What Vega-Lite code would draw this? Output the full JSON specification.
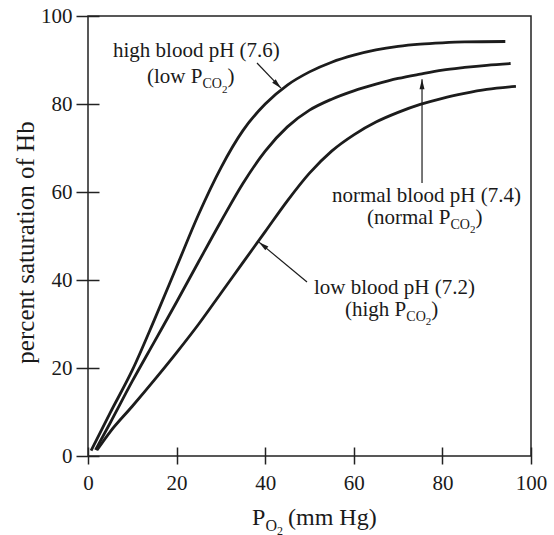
{
  "$schema": "https://vega.github.io/schema/vega-lite/v6.json",
  "width": 443,
  "height": 440,
  "autosize": {"type": "none"},
  "padding": {"left": 88, "top": 16, "right": 23, "bottom": 79},
  "background": "white",
  "config": {
    "view": {"stroke": "#222", "strokeWidth": 1.5},
    "font": "Liberation Serif",
    "axis": {"grid": false}
  },
  "datasets": {
    "curves": [
      {"po2": 0.7, "sat": 1.2, "pH": "7.6"},
      {"po2": 5, "sat": 9.8, "pH": "7.6"},
      {"po2": 10, "sat": 19.5, "pH": "7.6"},
      {"po2": 15, "sat": 31, "pH": "7.6"},
      {"po2": 20, "sat": 43, "pH": "7.6"},
      {"po2": 25, "sat": 55, "pH": "7.6"},
      {"po2": 30, "sat": 65.5, "pH": "7.6"},
      {"po2": 35, "sat": 74, "pH": "7.6"},
      {"po2": 40, "sat": 80, "pH": "7.6"},
      {"po2": 45, "sat": 84.3, "pH": "7.6"},
      {"po2": 50, "sat": 87.3, "pH": "7.6"},
      {"po2": 55, "sat": 89.5, "pH": "7.6"},
      {"po2": 60, "sat": 91.1, "pH": "7.6"},
      {"po2": 65, "sat": 92.3, "pH": "7.6"},
      {"po2": 70, "sat": 93.1, "pH": "7.6"},
      {"po2": 75, "sat": 93.6, "pH": "7.6"},
      {"po2": 80, "sat": 93.9, "pH": "7.6"},
      {"po2": 85, "sat": 94.1, "pH": "7.6"},
      {"po2": 94.2, "sat": 94.2, "pH": "7.6"},
      {"po2": 1.7, "sat": 1.4, "pH": "7.4"},
      {"po2": 5, "sat": 7.5, "pH": "7.4"},
      {"po2": 10, "sat": 17, "pH": "7.4"},
      {"po2": 15, "sat": 26, "pH": "7.4"},
      {"po2": 20, "sat": 35, "pH": "7.4"},
      {"po2": 25, "sat": 44.2, "pH": "7.4"},
      {"po2": 30, "sat": 53.3, "pH": "7.4"},
      {"po2": 35, "sat": 62, "pH": "7.4"},
      {"po2": 40, "sat": 69.3, "pH": "7.4"},
      {"po2": 45, "sat": 74.8, "pH": "7.4"},
      {"po2": 50, "sat": 78.6, "pH": "7.4"},
      {"po2": 55, "sat": 81.1, "pH": "7.4"},
      {"po2": 60, "sat": 83, "pH": "7.4"},
      {"po2": 65, "sat": 84.5, "pH": "7.4"},
      {"po2": 70, "sat": 85.8, "pH": "7.4"},
      {"po2": 75, "sat": 86.8, "pH": "7.4"},
      {"po2": 80, "sat": 87.7, "pH": "7.4"},
      {"po2": 85, "sat": 88.3, "pH": "7.4"},
      {"po2": 90, "sat": 88.8, "pH": "7.4"},
      {"po2": 95.4, "sat": 89.2, "pH": "7.4"},
      {"po2": 2, "sat": 1.3, "pH": "7.2"},
      {"po2": 5, "sat": 5.5, "pH": "7.2"},
      {"po2": 10, "sat": 11.3, "pH": "7.2"},
      {"po2": 15, "sat": 17.3, "pH": "7.2"},
      {"po2": 20, "sat": 23.5, "pH": "7.2"},
      {"po2": 25, "sat": 30, "pH": "7.2"},
      {"po2": 30, "sat": 37, "pH": "7.2"},
      {"po2": 35, "sat": 44, "pH": "7.2"},
      {"po2": 40, "sat": 51, "pH": "7.2"},
      {"po2": 45, "sat": 58, "pH": "7.2"},
      {"po2": 50, "sat": 64.3, "pH": "7.2"},
      {"po2": 55, "sat": 69.3, "pH": "7.2"},
      {"po2": 60, "sat": 73, "pH": "7.2"},
      {"po2": 65, "sat": 75.9, "pH": "7.2"},
      {"po2": 70, "sat": 78.1, "pH": "7.2"},
      {"po2": 75, "sat": 79.9, "pH": "7.2"},
      {"po2": 80, "sat": 81.3, "pH": "7.2"},
      {"po2": 85, "sat": 82.4, "pH": "7.2"},
      {"po2": 90, "sat": 83.3, "pH": "7.2"},
      {"po2": 96.6, "sat": 84, "pH": "7.2"}
    ],
    "arrows": [
      {"pH": "7.6", "x1": 38.15, "y1": 89.32, "x2": 43.57, "y2": 83.6},
      {"pH": "7.4", "x1": 75.4, "y1": 62.05, "x2": 75.4, "y2": 85.6},
      {"pH": "7.2", "x1": 49.44, "y1": 39.55, "x2": 38.6, "y2": 48.6}
    ],
    "labels": [
      {"text": "high blood pH (7.6)", "x": 5.64, "y": 90.68, "role": "main"},
      {"text": "(low P", "x": 13.32, "y": 84.77, "role": "main"},
      {"text": "CO", "x": 25.85, "y": 83.64, "role": "sub"},
      {"text": "2", "x": 30.25, "y": 82.61, "role": "subsub"},
      {"text": ")", "x": 31.49, "y": 84.77, "role": "main"},
      {"text": "normal blood pH (7.4)", "x": 55.08, "y": 57.73, "role": "main"},
      {"text": "(normal P", "x": 62.98, "y": 52.84, "role": "main"},
      {"text": "CO", "x": 81.83, "y": 51.7, "role": "sub"},
      {"text": "2", "x": 86.23, "y": 50.68, "role": "subsub"},
      {"text": ")", "x": 87.47, "y": 52.84, "role": "main"},
      {"text": "low blood pH (7.2)", "x": 51.02, "y": 36.82, "role": "main"},
      {"text": "(high P", "x": 58.01, "y": 31.82, "role": "main"},
      {"text": "CO", "x": 71.85, "y": 30.68, "role": "sub"},
      {"text": "2", "x": 76.23, "y": 29.66, "role": "subsub"},
      {"text": ")", "x": 77.47, "y": 31.82, "role": "main"},
      {"text": "P", "x": 37.02, "y": -15.68, "role": "title"},
      {"text": "O", "x": 40.07, "y": -17.05, "role": "titlesub"},
      {"text": "2", "x": 42.66, "y": -17.95, "role": "titlesubsub"},
      {"text": "(mm Hg)", "x": 45.15, "y": -15.68, "role": "title"}
    ]
  },
  "layer": [
    {
      "data": {"name": "curves"},
      "mark": {"type": "line", "interpolate": "monotone", "color": "#1c1c1c", "strokeWidth": 2.8, "clip": false},
      "encoding": {
        "x": {
          "field": "po2", "type": "quantitative",
          "scale": {"domain": [0, 100], "nice": false, "zero": false},
          "axis": {
            "orient": "bottom", "values": [0, 20, 40, 60, 80, 100], "title": null,
            "offset": -9, "domain": false,
            "tickSize": 17, "tickWidth": 1.5, "tickColor": "#222",
            "labelFont": "Liberation Serif", "labelFontSize": 21, "labelColor": "#1a1a1a",
            "labelPadding": 8, "labelFlush": false
          }
        },
        "y": {
          "field": "sat", "type": "quantitative",
          "scale": {"domain": [0, 100], "nice": false, "zero": false},
          "axis": {
            "orient": "left", "values": [0, 20, 40, 60, 80, 100],
            "offset": -11, "domain": false,
            "tickSize": 23, "tickWidth": 1.5, "tickColor": "#222",
            "labelFont": "Liberation Serif", "labelFontSize": 21, "labelColor": "#1a1a1a",
            "labelPadding": 4, "labelFlush": false,
            "title": "percent saturation of Hb",
            "titleFont": "Liberation Serif", "titleFontSize": 25, "titleFontWeight": "normal",
            "titleColor": "#1a1a1a", "titleAngle": -90, "titleAlign": "center",
            "titleBaseline": "alphabetic", "titleX": -66, "titleY": 226
          }
        },
        "detail": {"field": "pH", "type": "nominal"}
      }
    },
    {
      "data": {"name": "arrows"},
      "mark": {"type": "rule", "color": "#1c1c1c", "strokeWidth": 1.2},
      "encoding": {
        "x": {"field": "x1", "type": "quantitative", "scale": {"domain": [0, 100], "nice": false, "zero": false}, "axis": null},
        "y": {"field": "y1", "type": "quantitative", "scale": {"domain": [0, 100], "nice": false, "zero": false}, "axis": null},
        "x2": {"field": "x2"},
        "y2": {"field": "y2"}
      }
    },
    {
      "data": {"name": "arrows"},
      "transform": [{"filter": "datum.pH === '7.6'"}],
      "mark": {"type": "point", "shape": "M0,0L0.5,2L-0.5,2Z", "filled": true, "color": "#1c1c1c", "opacity": 1, "size": 100, "angle": 135},
      "encoding": {
        "x": {"field": "x2", "type": "quantitative", "scale": {"domain": [0, 100], "nice": false, "zero": false}, "axis": null},
        "y": {"field": "y2", "type": "quantitative", "scale": {"domain": [0, 100], "nice": false, "zero": false}, "axis": null}
      }
    },
    {
      "data": {"name": "arrows"},
      "transform": [{"filter": "datum.pH === '7.4'"}],
      "mark": {"type": "point", "shape": "M0,0L0.5,2L-0.5,2Z", "filled": true, "color": "#1c1c1c", "opacity": 1, "size": 100, "angle": 0},
      "encoding": {
        "x": {"field": "x2", "type": "quantitative", "scale": {"domain": [0, 100], "nice": false, "zero": false}, "axis": null},
        "y": {"field": "y2", "type": "quantitative", "scale": {"domain": [0, 100], "nice": false, "zero": false}, "axis": null}
      }
    },
    {
      "data": {"name": "arrows"},
      "transform": [{"filter": "datum.pH === '7.2'"}],
      "mark": {"type": "point", "shape": "M0,0L0.5,2L-0.5,2Z", "filled": true, "color": "#1c1c1c", "opacity": 1, "size": 100, "angle": 308.5},
      "encoding": {
        "x": {"field": "x2", "type": "quantitative", "scale": {"domain": [0, 100], "nice": false, "zero": false}, "axis": null},
        "y": {"field": "y2", "type": "quantitative", "scale": {"domain": [0, 100], "nice": false, "zero": false}, "axis": null}
      }
    },
    {
      "data": {"name": "labels"},
      "transform": [{"filter": "datum.role === 'main'"}],
      "mark": {"type": "text", "align": "left", "baseline": "alphabetic", "font": "Liberation Serif", "fontSize": 21, "color": "#1a1a1a", "clip": false},
      "encoding": {
        "x": {"field": "x", "type": "quantitative", "scale": {"domain": [0, 100], "nice": false, "zero": false}, "axis": null},
        "y": {"field": "y", "type": "quantitative", "scale": {"domain": [0, 100], "nice": false, "zero": false}, "axis": null},
        "text": {"field": "text"}
      }
    },
    {
      "data": {"name": "labels"},
      "transform": [{"filter": "datum.role === 'sub'"}],
      "mark": {"type": "text", "align": "left", "baseline": "alphabetic", "font": "Liberation Serif", "fontSize": 14, "color": "#1a1a1a", "clip": false},
      "encoding": {
        "x": {"field": "x", "type": "quantitative", "scale": {"domain": [0, 100], "nice": false, "zero": false}, "axis": null},
        "y": {"field": "y", "type": "quantitative", "scale": {"domain": [0, 100], "nice": false, "zero": false}, "axis": null},
        "text": {"field": "text"}
      }
    },
    {
      "data": {"name": "labels"},
      "transform": [{"filter": "datum.role === 'subsub'"}],
      "mark": {"type": "text", "align": "left", "baseline": "alphabetic", "font": "Liberation Serif", "fontSize": 11, "color": "#1a1a1a", "clip": false},
      "encoding": {
        "x": {"field": "x", "type": "quantitative", "scale": {"domain": [0, 100], "nice": false, "zero": false}, "axis": null},
        "y": {"field": "y", "type": "quantitative", "scale": {"domain": [0, 100], "nice": false, "zero": false}, "axis": null},
        "text": {"field": "text"}
      }
    },
    {
      "data": {"name": "labels"},
      "transform": [{"filter": "datum.role === 'title'"}],
      "mark": {"type": "text", "align": "left", "baseline": "alphabetic", "font": "Liberation Serif", "fontSize": 24, "color": "#1a1a1a", "clip": false},
      "encoding": {
        "x": {"field": "x", "type": "quantitative", "scale": {"domain": [0, 100], "nice": false, "zero": false}, "axis": null},
        "y": {"field": "y", "type": "quantitative", "scale": {"domain": [0, 100], "nice": false, "zero": false}, "axis": null},
        "text": {"field": "text"}
      }
    },
    {
      "data": {"name": "labels"},
      "transform": [{"filter": "datum.role === 'titlesub'"}],
      "mark": {"type": "text", "align": "left", "baseline": "alphabetic", "font": "Liberation Serif", "fontSize": 16, "color": "#1a1a1a", "clip": false},
      "encoding": {
        "x": {"field": "x", "type": "quantitative", "scale": {"domain": [0, 100], "nice": false, "zero": false}, "axis": null},
        "y": {"field": "y", "type": "quantitative", "scale": {"domain": [0, 100], "nice": false, "zero": false}, "axis": null},
        "text": {"field": "text"}
      }
    },
    {
      "data": {"name": "labels"},
      "transform": [{"filter": "datum.role === 'titlesubsub'"}],
      "mark": {"type": "text", "align": "left", "baseline": "alphabetic", "font": "Liberation Serif", "fontSize": 12, "color": "#1a1a1a", "clip": false},
      "encoding": {
        "x": {"field": "x", "type": "quantitative", "scale": {"domain": [0, 100], "nice": false, "zero": false}, "axis": null},
        "y": {"field": "y", "type": "quantitative", "scale": {"domain": [0, 100], "nice": false, "zero": false}, "axis": null},
        "text": {"field": "text"}
      }
    }
  ],
  "resolve": {"axis": {"x": "independent", "y": "independent"}}
}
